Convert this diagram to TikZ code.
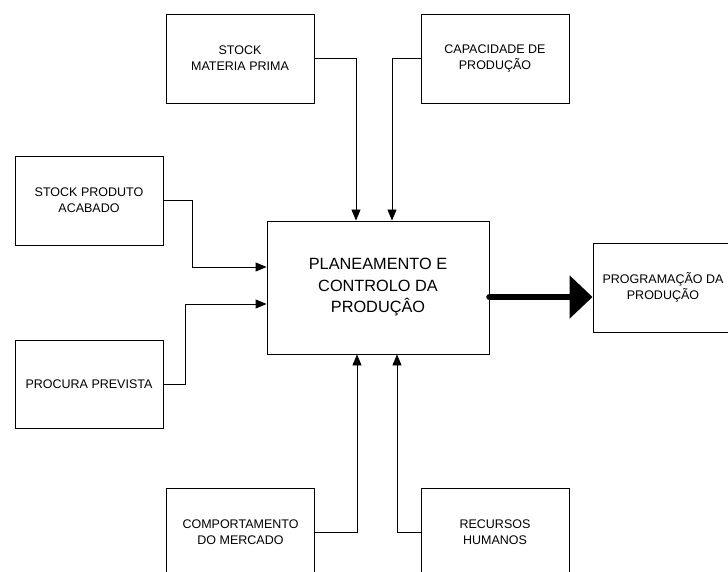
\documentclass[tikz,border=0pt]{standalone}
\usepackage{fontspec}
\setmainfont{Liberation Sans}
\usetikzlibrary{arrows.meta}
\begin{document}
\begin{tikzpicture}[x=1pt,y=-1pt,
  inbox/.style={draw=black, line width=0.9pt, minimum width=148pt, minimum height=89pt,
    align=center, inner sep=0pt, font=\fontsize{12.5}{16}\selectfont},
  mainbox/.style={draw=black, line width=0.9pt, minimum width=222pt, minimum height=133pt,
    align=center, inner sep=0pt, font=\fontsize{16.3}{21.5}\selectfont},
  feed/.style={draw=black, line width=0.9pt, -{Triangle[length=11pt,width=9pt]}},
  bigout/.style={draw=black, line width=6.5pt, line cap=round, -{Triangle[length=23pt,width=42pt]}}]
  \useasboundingbox (0,0) rectangle (728,572);
  \clip (0,0) rectangle (728,572);
  \fill[white] (0,0) rectangle (728,572);

  % central process
  \node[mainbox] (plan) at (378,287.5) {PLANEAMENTO E\\CONTROLO DA\\PRODUÇÂO};

  % inputs
  \node[inbox] (smp) at (240,58.5) {STOCK\\MATERIA PRIMA};
  \node[inbox] (cap) at (495,58.5) {CAPACIDADE DE\\PRODUÇÃO};
  \node[inbox] (spa) at (89,200.5) {STOCK PRODUTO\\ACABADO};
  \node[inbox, minimum height=88pt] (pp) at (89,384) {PROCURA PREVISTA};
  \node[inbox] (cm) at (240.5,532.5) {COMPORTAMENTO\\DO MERCADO};
  \node[inbox] (rh) at (495,532.5) {RECURSOS\\HUMANOS};

  % output
  \node[inbox, minimum width=140pt] (prog) at (663,287.5) {PROGRAMAÇÃO DA\\PRODUÇÃO};

  % feeding connectors
  \draw[feed] (smp.east) -| ([xshift=-22pt]plan.north);
  \draw[feed] (cap.west) -| ([xshift=14pt]plan.north);
  \draw[feed] (spa.east) -- ++(29,0) |- ([yshift=20.5pt]plan.west);
  \draw[feed] (pp.east) -- ++(22,0) |- ([yshift=-16.5pt]plan.west);
  \draw[feed] (cm.east) -| ([xshift=-21pt]plan.south);
  \draw[feed] (rh.west) -| ([xshift=19pt]plan.south);

  % main output
  \coordinate (outstart) at ([yshift=-9.5pt]plan.east);
  \draw[bigout] (outstart) -- (outstart -| prog.west);
\end{tikzpicture}
\end{document}
